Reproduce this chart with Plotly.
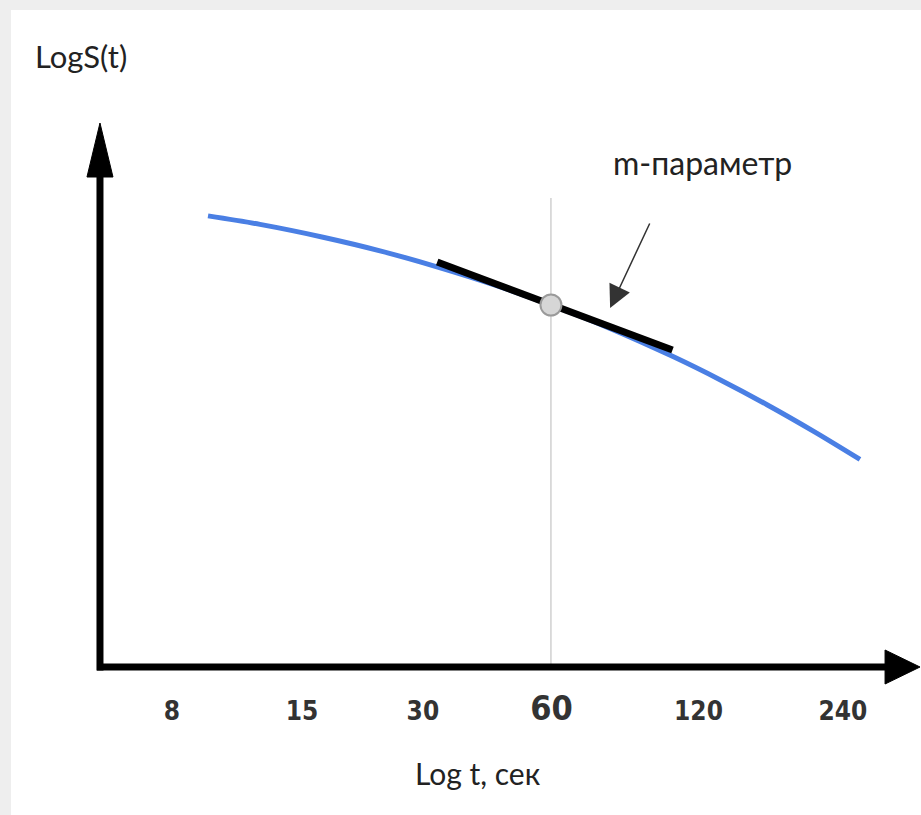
import plotly.graph_objects as go

# ---- data (schematic) ----
tick_labels = ["8", "15", "30", "60", "120", "240"]
tick_pos = [0.0, 1.0, 1.93, 2.92, 4.05, 5.16]          # position of each label along "Log t"

curve_x = [0.277, 0.677, 1.162, 1.600, 2.038, 2.485, 2.915, 3.369, 3.854, 4.215, 4.577, 4.946, 5.292]
curve_y = [4.511, 4.426, 4.298, 4.162, 4.002, 3.819, 3.620, 3.386, 3.104, 2.873, 2.623, 2.349, 2.076]

tangent_x = [2.04, 3.85]
tangent_y = [4.05, 3.17]

point_x = [2.915]
point_y = [3.62]
marker_line_top = 4.69

# ---- layout helpers ----
W, H = 921, 815
X_RANGE = [-1.3231, 5.7615]
Y_RANGE = [-0.26, 6.67]
DOMAIN_BOTTOM_PX = 693
y_dom0 = (H - DOMAIN_BOTTOM_PX) / H

axis_x0 = -0.554   # vertical axis position
axis_y0 = 0.0      # horizontal axis position

fig = go.Figure()

# blue curve
fig.add_trace(go.Scatter(
    x=curve_x, y=curve_y, mode="lines",
    line=dict(color="#4a7fe4", width=5, shape="spline", smoothing=0.8),
    hoverinfo="skip", showlegend=False))

# tangent (m-parameter)
fig.add_trace(go.Scatter(
    x=tangent_x, y=tangent_y, mode="lines",
    line=dict(color="#000000", width=7),
    hoverinfo="skip", showlegend=False))

# point at t = 60
fig.add_trace(go.Scatter(
    x=point_x, y=point_y, mode="markers",
    marker=dict(size=21, color="#d6d6d6", line=dict(color="#9a9a9a", width=2)),
    hoverinfo="skip", showlegend=False))

shapes = []
# white page area over the light frame
shapes.append(dict(type="rect", xref="paper", yref="paper",
                   x0=11 / W, x1=1, y0=0, y1=1 - 10 / H,
                   fillcolor="white", line=dict(width=0), layer="below"))
# thin vertical line at the point
shapes.append(dict(type="line", xref="x", yref="y",
                   x0=point_x[0], x1=point_x[0], y0=axis_y0, y1=marker_line_top,
                   line=dict(color="#c4c4c4", width=1.2), layer="below"))
# horizontal axis with arrow
shapes.append(dict(type="line", xref="x", yref="y",
                   x0=-0.577, x1=5.51, y0=axis_y0, y1=axis_y0,
                   line=dict(color="black", width=7)))
shapes.append(dict(type="path", xref="x", yref="y",
                   path=f"M 5.485,{axis_y0 + 0.17} L 5.754,{axis_y0} L 5.485,{axis_y0 - 0.17} Z",
                   fillcolor="black", line=dict(color="black", width=1)))
# vertical axis with arrow
shapes.append(dict(type="line", xref="x", yref="y",
                   x0=axis_x0, x1=axis_x0, y0=-0.035, y1=4.92,
                   line=dict(color="black", width=7)))
shapes.append(dict(type="path", xref="x", yref="y",
                   path=f"M {axis_x0 - 0.1},4.90 L {axis_x0},5.44 L {axis_x0 + 0.1},4.90 Z",
                   fillcolor="black", line=dict(color="black", width=1)))

text_font = "Lato, Open Sans, sans-serif"
annotations = [
    dict(text="m-параметр", x=4.08, y=5.05, xref="x", yref="y", showarrow=False,
         font=dict(family=text_font, size=32, color="#222222")),
    dict(text="", x=3.37, y=3.59, ax=3.68, ay=4.45, xref="x", yref="y",
         axref="x", ayref="y", showarrow=True, arrowhead=2, arrowsize=3.0,
         arrowwidth=1.5, arrowcolor="#333333"),
    dict(text="LogS(t)", x=33 / W, y=1 - 56 / H, xref="paper", yref="paper",
         xanchor="left", yanchor="middle", showarrow=False,
         font=dict(family=text_font, size=31, color="#222222")),
    dict(text="Log t, сек", x=478 / W, y=1 - 773 / H, xref="paper", yref="paper",
         xanchor="center", yanchor="middle", showarrow=False,
         font=dict(family=text_font, size=30, color="#222222")),
]

tick_text = [f"<span style='font-size:34px'>{t}</span>" if t == "60" else t for t in tick_labels]

fig.update_layout(
    width=W, height=H, autosize=False,
    margin=dict(l=0, r=0, t=0, b=0, pad=0),
    paper_bgcolor="#eeeeee", plot_bgcolor="rgba(0,0,0,0)",
    shapes=shapes, annotations=annotations,
    xaxis=dict(range=X_RANGE, domain=[0, 1], showgrid=False, zeroline=False,
               showline=False, ticks="", tickmode="array",
               tickvals=tick_pos, ticktext=tick_text,
               tickfont=dict(family="Liberation Sans Narrow, DejaVu Sans Condensed, sans-serif",
                             size=26, color="#333333", weight="bold"),
               fixedrange=True),
    yaxis=dict(range=Y_RANGE, domain=[y_dom0, 1], showgrid=False, zeroline=False,
               showline=False, showticklabels=False, ticks="", fixedrange=True),
    showlegend=False,
)

fig.write_html("out.html")
